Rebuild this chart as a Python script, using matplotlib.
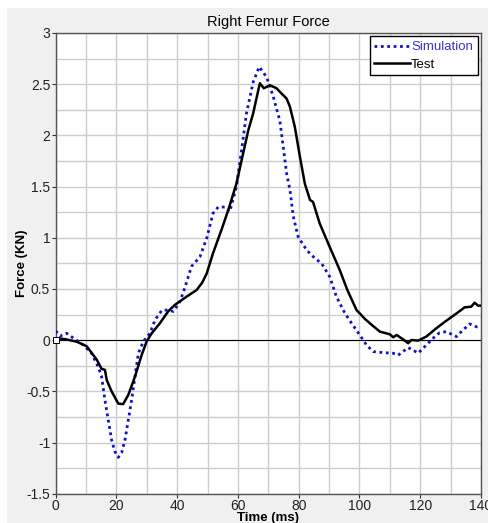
import matplotlib
matplotlib.use("Agg")
import matplotlib.pyplot as plt
from matplotlib.patches import Rectangle
from matplotlib.ticker import MultipleLocator

plt.rcParams['font.family'] = ['Liberation Sans', 'DejaVu Sans']

test_t = [0, 3, 6.9, 10.2, 13.5, 15.1, 16.2, 16.8, 18.4, 20.6, 22.2, 23.9, 26.1, 28.3, 29.9,
          31.6, 34.3, 37.0, 39.2, 43.1, 46.4, 48.2, 49.7, 51.8, 54.6, 56.8, 59.5, 61.7, 63.4, 65.0,
          67.2, 68.5, 70.5, 72.7, 74.3, 76.0, 77.1, 78.7, 80.4, 82.0, 83.7, 84.7, 86.9, 90.2, 93.5,
          96.0, 99.0, 101.7, 103.4, 106.7, 110.0, 111.1, 112.2, 114.3, 116.0, 117.1, 119.3,
          122.0, 125.3, 128.6, 131.9, 134.6, 136.8, 137.9, 139.0, 140.0]
test_f = [0.02, 0.01, -0.015, -0.06, -0.19, -0.28, -0.29, -0.39, -0.50, -0.62, -0.625, -0.535,
          -0.356, -0.145, -0.015, 0.067, 0.165, 0.28, 0.344, 0.425, 0.49, 0.56, 0.65, 0.85, 1.08,
          1.27, 1.53, 1.825, 2.05, 2.215, 2.51, 2.46, 2.49, 2.46, 2.41, 2.36, 2.28, 2.085, 1.79,
          1.53, 1.37, 1.35, 1.14, 0.91, 0.685, 0.49, 0.295, 0.21, 0.165, 0.083, 0.057, 0.028,
          0.05, 0.009, -0.03, 0.002, -0.005, 0.035, 0.116, 0.19, 0.26, 0.32, 0.327, 0.366,
          0.337, 0.337]

sim_t = [0, 1.5, 3.6, 5.8, 9.1, 11.8, 14.0, 15.1, 16.2, 17.3, 18.4, 19.5, 20.6, 21.7, 22.8,
         23.9, 25.0, 26.1, 27.2, 28.8, 31.0, 32.7, 34.9, 37.0, 38.7, 40.9, 42.5, 44.7, 47.5,
         49.7, 51.8, 53.5, 55.7, 57.3, 59.5, 61.2, 62.8, 65.0, 67.0, 69.4, 71.6, 73.8, 74.9,
         76.0, 77.1, 78.2, 79.8, 82.6, 85.3, 87.5, 90.2, 92.4, 95.2, 97.4, 100.1, 102.3, 104.5,
         107.8, 111.1, 112.7, 114.3, 116.0, 117.6, 119.3, 121.5, 124.2, 126.4, 128.6, 131.9,
         134.1, 136.3, 138.5, 140.0]
sim_f = [0.09, 0.04, 0.067, 0.02, -0.047, -0.13, -0.26, -0.356, -0.584, -0.78, -0.975, -1.09,
         -1.145, -1.10, -0.975, -0.78, -0.584, -0.356, -0.13, -0.015, 0.067, 0.197, 0.29, 0.295,
         0.28, 0.376, 0.51, 0.72, 0.815, 0.995, 1.24, 1.30, 1.30, 1.255, 1.50, 1.86, 2.215, 2.52,
         2.67, 2.57, 2.38, 2.14, 1.89, 1.63, 1.47, 1.21, 1.01, 0.88, 0.80, 0.75, 0.62, 0.425,
         0.263, 0.165, 0.05, -0.047, -0.112, -0.122, -0.128, -0.148, -0.112, -0.073, -0.096,
         -0.128, -0.063, 0.018, 0.073, 0.083, 0.034, 0.1, 0.158, 0.13, 0.13]

fig = plt.figure(figsize=(4.88, 5.23), dpi=100, facecolor='white')
fig.patches.append(Rectangle((7 / 488, 0), 1, 1 - 8 / 523, transform=fig.transFigure,
                             facecolor='#f0f0f0', edgecolor='none', zorder=-10))
ax = fig.add_axes([55.7 / 488, 1 - 493.7 / 523, (481 - 55.7) / 488, (493.7 - 33) / 523])
ax.set_facecolor('white')

ax.set_xlim(0, 140)
ax.set_ylim(-1.5, 3)
ax.xaxis.set_major_locator(MultipleLocator(20))
ax.xaxis.set_minor_locator(MultipleLocator(10))
ax.yaxis.set_major_locator(MultipleLocator(0.5))
ax.yaxis.set_minor_locator(MultipleLocator(0.25))
ax.grid(True, which='both', color='#cccccc', linewidth=1.0)
ax.set_axisbelow(True)
ax.axhline(0, color='black', linewidth=0.8, zorder=2)

ax.yaxis.set_major_formatter(plt.FuncFormatter(lambda v, p: ('%g' % v)))
ax.tick_params(which='major', length=3, width=0.8, labelsize=10, pad=1, colors='#333333',
               labelcolor='#222222')
ax.tick_params(which='minor', length=0)
for s in ax.spines.values():
    s.set_color('#555555')
    s.set_linewidth(1.0)

ax.plot(sim_t, sim_f, color='#1010c8', linewidth=2.0, linestyle=(0, (1, 1.3)),
        label='Simulation', zorder=3)
ax.plot(test_t, test_f, color='black', linewidth=1.8, label='Test', zorder=4)
ax.plot([0], [0], marker='s', markersize=4, markerfacecolor='white',
        markeredgecolor='black', markeredgewidth=0.7, clip_on=False, zorder=5)

ax.set_title('Right Femur Force', fontsize=10.5, pad=5)
ax.set_xlabel('Time (ms)', fontsize=9.5, fontweight='bold', labelpad=-1)
ax.set_ylabel('Force (KN)', fontsize=9.5, fontweight='bold', labelpad=-1)

leg = ax.legend(loc='upper right', fontsize=9.5, frameon=True, fancybox=False,
                edgecolor='black', framealpha=1, handlelength=2.7, handletextpad=0.1,
                borderaxespad=0.25, borderpad=0.35, labelspacing=0.4)
leg.get_frame().set_linewidth(1.0)
leg.get_texts()[0].set_color('#3535c8')

fig.savefig('out.png', dpi=100, facecolor=fig.get_facecolor())
